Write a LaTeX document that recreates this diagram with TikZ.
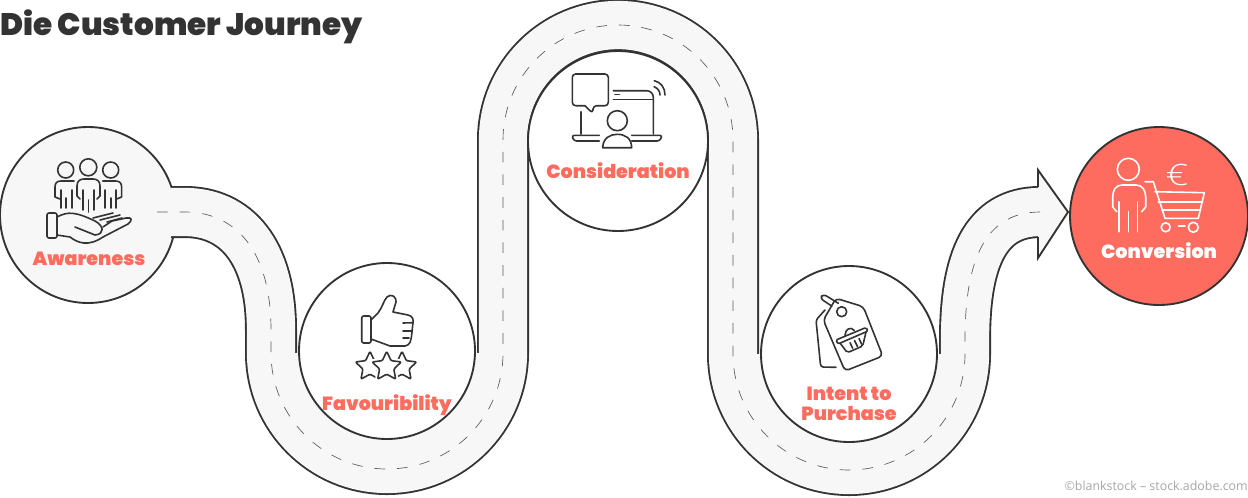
\documentclass[tikz,border=0pt]{standalone}
\usepackage{fontspec}
\usepackage{xcolor}
\usetikzlibrary{shapes.geometric}
\setmainfont{Poppins}
\newfontfamily\headfont{Poppins Black}
\newfontfamily\notefont{Open Sans}
\newfontfamily\eurofont{Open Sans Light}
\definecolor{ink}{HTML}{333333}
\definecolor{coral}{HTML}{FE6B5F}
\definecolor{roadgray}{HTML}{F7F7F7}
\tikzset{
	stop/.style={circle,draw=ink,line width=1.4pt,minimum size=132pt,inner sep=0pt,fill=white},
	stoptext/.style={font=\headfont\fontsize{14.3}{15}\selectfont,text=coral,inner sep=0pt,align=center},
	icon/.style={draw=ink,line width=1.2pt,line join=round,line cap=round},
	iconw/.style={draw=white,line width=1.2pt,line join=round,line cap=round},
	ministar/.style={star,star points=5,star point ratio=2.05,minimum size=23pt,inner sep=0pt,icon,fill=white,rounded corners=.8pt},
	roadcover/.style={roadgray,line width=6pt}
}
\newcommand{\roadmid}{(185,212) .. controls (235,212) and (271,250) .. (271,330) -- (271,353) arc (180:0:116) -- (503,140) arc (180:360:115) -- (733,354) arc (180:0:116) -- (965,340) .. controls (965,260) and (985,212) .. (roadend)}
\begin{document}
\begin{tikzpicture}[x=.75pt,y=-.75pt]
	\useasboundingbox (0,0) rectangle (1248,497);
	\node[stop,fill=roadgray] (awareness) at (88,215) {};
	\coordinate (roadend) at (1040,212);
	\coordinate (headtop) at (1038,170);
	\coordinate (headtip) at (1068,212);
	\coordinate (headbot) at (1038,258);
	\coordinate (roadin) at (171,212);
	\coordinate (dashin) at (157,212);
	\draw[ink,line width=39pt] (roadin) -- \roadmid;
	\draw[roadgray,line width=36.2pt] (roadin) -- \roadmid;
	\fill[roadgray] (1038,187) -- (headtop) -- (headtip) -- (headbot) -- (1038,237) -- cycle;
	\draw[ink,line width=1.4pt,line join=miter] (1038,187) -- (headtop) -- (headtip) -- (headbot) -- (1038,237);
	\draw[ink!80,line width=.5pt,dash pattern=on 8pt off 9pt] (dashin) -- \roadmid;
	\draw[roadcover] (296,353) arc (180:0:91);
	\draw[roadcover] (758,354) arc (180:0:91);
	\node[stop] (favour) at (387,351) {};
	\node[stop,minimum size=135pt] (consider) at (618,141) {};
	\node[stop] (intent) at (849,354) {};
	\node[stop,fill=coral,minimum size=133.5pt] (conversion) at (1159,216) {};
	\node[anchor=west,inner sep=0pt,font=\headfont\fontsize{23.3}{25}\selectfont,text=ink] (title) at (0,27) {Die Customer Journey};
	\node[stoptext] (awarenesstext) at (89,259) {Awareness};
	\node[stoptext] (favourtext) at (387,405) {Favouribility};
	\node[stoptext] (considertext) at (618,171) {Consideration};
	\node[stoptext] (intenttext) at (849,404) {Intent to\\Purchase};
	\node[stoptext,text=white] (conversiontext) at (1159,251) {Conversion};
	\node[anchor=east,inner sep=0pt,font=\notefont\fontsize{9.3}{11}\selectfont,text=black!35] (credit) at (1248,486) {©blankstock – stock.adobe.com};
	\draw[icon] (65.7,170) circle (8) (88.3,167.3) circle (8.5) (110.7,170) circle (8);
	\draw[icon] (80,199) -- (77,196) -- (77,186) .. controls (77,181) and (80,179) .. (84,179) -- (93,179) .. controls (97,179) and (100,181) .. (100,186) -- (100,196) -- (97,199);
	\draw[icon] (83,190) -- (83,210) (94,190) -- (94,210) (88.5,200) -- (88.5,212);
	\draw[icon] (60,199) -- (55,197) -- (55,187) .. controls (55,183) and (57,181) .. (61,181) -- (74,181);
	\draw[icon] (116.6,199) -- (121.6,197) -- (121.6,187) .. controls (121.6,183) and (119.6,181) .. (115.6,181) -- (102.6,181);
	\draw[icon] (61,190) -- (61,208) (66,198) -- (66,208) (72,190) -- (72,208) (111,198) -- (111,208) (105,190) -- (105,208) (116,190) -- (116,208);
	\draw[icon,rounded corners=1.5pt] (47,213) rectangle (57,238);
	\draw[icon] (57,217) .. controls (68,211) and (76,212) .. (95,221) .. controls (104,226) and (105,234) .. (95,235) -- (75,227);
	\draw[icon] (57,235) -- (70,237) .. controls (78,243) and (88,247) .. (103,237) -- (128,224) .. controls (133,220) and (132,217) .. (126,218) -- (112,221) -- (103,227);
	\draw[icon] (93,218) -- (113,213) (100,220) -- (120,215) (107,222) -- (122,218);
	\draw[icon,rounded corners=1.5pt] (361.7,316) rectangle (371,343);
	\draw[icon] (371,320) -- (378,313) .. controls (382,308) and (384,300) .. (387,297) .. controls (391,293) and (397,297) .. (396,302) -- (393,312) -- (408,315) .. controls (413,316) and (414,320) .. (412.7,325) -- (412,332) .. controls (411,342) and (410,345) .. (405,346) -- (390,346) -- (371,339);
	\draw[icon] (403,323) -- (412.7,322.7) (403,331) -- (412,331) (403,338) -- (409,338);
	\node[ministar] (starleft) at (370,366.7) {};
	\node[ministar] (starright) at (402,366.7) {};
	\node[ministar,preaction={draw=white,line width=4pt}] (starmid) at (386.7,366.7) {};
	\draw[icon,rounded corners=2.5pt] (585,105.7) -- (572.3,105.7) -- (572.3,74) -- (608.3,74) -- (608.3,105.7) -- (593.3,105.7) -- (592.7,113.3) -- (585,105.7);
	\draw[icon] (581,111.7) -- (581,134);
	\draw[icon,rounded corners=5pt] (613.3,90.7) -- (653.3,90.7) -- (653.3,134);
	\draw[icon] (613.3,99.3) -- (653.3,99.3) (615,94.3) -- (619.3,94.3);
	\draw[icon,rounded corners=2pt] (599.3,141) -- (574,141) -- (571.7,135.3) -- (599.3,135.3);
	\draw[icon,rounded corners=2pt] (631.7,141) -- (659.7,141) -- (662.3,135.3) -- (631.7,135.3);
	\draw[icon] (617.3,120.7) circle (10);
	\draw[icon] (602.7,147.7) .. controls (603,138) and (610,134.3) .. (617.3,134.3) .. controls (625,134.3) and (631.5,138) .. (631.7,147.7) -- cycle;
	\draw[icon] (654.3,80.7) .. controls (661,82) and (665,88) .. (665,95) (654,86.7) .. controls (657.5,88) and (660,91) .. (660,95);
	\draw[icon,rounded corners=3pt] (836,298.3) -- (863.3,306.7) -- (882.7,356) -- (845,371) -- (823.3,320) -- cycle;
	\draw[icon,fill=white] (841.7,311.7) circle (5);
	\draw[icon,rounded corners=2.5pt] (838.3,303.3) -- (823.3,294) -- (820,298.3) -- (831.7,306);
	\draw[icon,rounded corners=2pt] (825,310) -- (816,320) -- (820.7,367) -- (836,367.3);
	\draw[icon,rounded corners=1pt] (836,340) -- (866,327.5) -- (868,331) -- (838,344) -- cycle;
	\draw[icon] (845,335.5) .. controls (845,329) and (851,326) .. (854.3,330.5);
	\draw[icon,rounded corners=1.5pt] (840,343) -- (847.3,352.7) -- (862.7,346) -- (866,332);
	\draw[icon] (850,342.7) -- (852.7,348.3) (854.5,340.5) -- (857.5,346.5) (859,338.5) -- (861.5,344);
	\draw[iconw] (1128.3,169.3) circle (11);
	\draw[iconw] (1116.7,211.7) -- (1112.7,207) -- (1112.7,197) .. controls (1112.7,190) and (1116,185) .. (1122,185) -- (1136,185) .. controls (1142,185) and (1145.7,190) .. (1145.7,197) -- (1145.7,207) -- (1141.7,211.7);
	\draw[iconw] (1119,201.7) -- (1119,231.7) (1128.3,211.7) -- (1128.3,231.7) (1137.3,201.7) -- (1137.3,231.7);
	\draw[iconw] (1145,181.7) -- (1153.3,181.7) -- (1165,218.3) -- (1198.3,218.3) -- (1204.3,192.7) -- (1155,191.7);
	\draw[iconw] (1158.3,201.7) -- (1202.7,201.7) (1161.7,210) -- (1200,210);
	\draw[iconw] (1165.7,227.3) circle (4.5) (1193.3,227.3) circle (5) (1178.3,226) -- (1185,226);
	\node[inner sep=0pt,text=white,xscale=1.35,transform shape,font=\eurofont\fontsize{22}{24}\selectfont] (euro) at (1177,175) {€};
\end{tikzpicture}
\end{document}
